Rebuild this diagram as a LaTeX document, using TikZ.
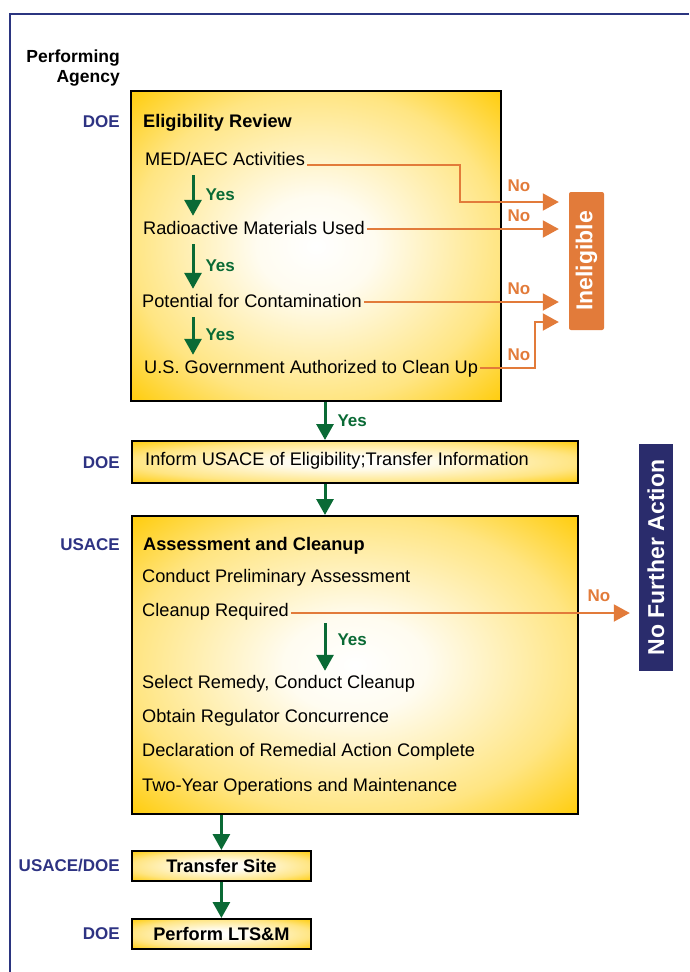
\documentclass[tikz,border=0pt]{standalone}
\usepackage{fontspec}
\setmainfont{Liberation Sans}
\usetikzlibrary{arrows.meta,positioning}

\definecolor{gold}{HTML}{FFCB05}
\definecolor{navy}{HTML}{2E3383}
\definecolor{frameblue}{HTML}{2B3580}
\definecolor{darkgreen}{HTML}{0A6A35}
\definecolor{noorange}{HTML}{E27B3A}
\definecolor{nfanavy}{HTML}{2A2C6C}

\pgfdeclareradialshading{goldglow}{\pgfpointorigin}{color(0bp)=(white); color(8bp)=(white!94!gold); color(25bp)=(gold!50!white); color(36bp)=(gold); color(50bp)=(gold)}

\tikzset{
  stagebox/.style={draw=black, line width=1.8pt, shade, shading=goldglow, anchor=north west, inner sep=0pt},
  item/.style={anchor=west, inner sep=2pt, text height=13pt, text depth=3pt, font=\fontsize{18.2}{21}\selectfont},
  heading/.style={item, font=\fontsize{18.2}{21}\selectfont\bfseries},
  agency/.style={anchor=east, inner sep=0pt, text=navy, font=\fontsize{17}{20}\selectfont\bfseries},
  yesarrow/.style={draw=darkgreen, line width=3pt, -{Triangle[width=17pt,length=16pt]}, shorten <=5pt, shorten >=3pt},
  yeslbl/.style={text=darkgreen, inner sep=0pt, font=\fontsize{17}{20}\selectfont\bfseries},
  noarrow/.style={draw=noorange, line width=2pt, -{Triangle[width=17pt,length=16pt]}, shorten >=10pt},
  nolbl/.style={text=noorange, inner sep=0pt, font=\fontsize{17}{20}\selectfont\bfseries},
  sidebox/.style={inner sep=0pt, text=white, font=\fontsize{23}{27}\selectfont\bfseries}
}

\begin{document}
\begin{tikzpicture}[x=1pt, y=-1pt]
  \useasboundingbox (0,0) rectangle (689,972);
  \draw[frameblue, line width=2.8pt] (689,14) -- (10,14) -- (10,972);

  % agency column
  \node(perfag) [anchor=east, align=right, inner sep=0pt, font=\fontsize{17.5}{20}\selectfont\bfseries] at (120,68) {Performing\\Agency};
  \node(ag1) [agency] at (120,122) {DOE};
  \node(ag2) [agency] at (120,463) {DOE};
  \node(ag3) [agency] at (120,545) {USACE};
  \node(ag4) [agency] at (120,866) {USACE/DOE};
  \node(ag5) [agency] at (120,934) {DOE};

  % stage boxes
  \node(elig) [stagebox, minimum width=370pt, minimum height=310pt] at (130,90) {};
  \node(inform) [stagebox, minimum width=446pt, minimum height=42pt] at (131,440) {};
  \node(assess) [stagebox, minimum width=446pt, minimum height=298pt] at (131,515) {};
  \node(transfer) [stagebox, minimum width=179pt, minimum height=30pt, font=\fontsize{18.2}{21}\selectfont\bfseries] at (131,850) {Transfer Site};
  \node(ltsm) [stagebox, minimum width=179pt, minimum height=30pt, font=\fontsize{18.2}{21}\selectfont\bfseries] at (131,918) {Perform LTS\&M};

  % outcome boxes
  \node(inel) [sidebox, fill=noorange, rounded corners=2pt, minimum width=35pt, minimum height=138pt] at (586.5,261) {\rotatebox{90}{Ineligible}};
  \node(nfa) [sidebox, fill=nfanavy, minimum width=34pt, minimum height=227pt] at (656,557.5) {\rotatebox{90}{No Further Action}};

  % eligibility review
  \node(eligttl) [heading] at (141,122) {Eligibility Review};
  \node(med) [item] at (143,160) {MED/AEC Activities};
  \node(radio) [item] at (141,229) {Radioactive Materials Used};
  \node(potent) [item] at (140,302) {Potential for Contamination};
  \node(usgov) [item] at (142,368) {U.S. Government Authorized to Clean Up};

  \coordinate(yx) at (193,0);
  \draw[yesarrow] (yx |- med.south) -- (yx |- radio.north) node[yeslbl, midway, right=11pt] {Yes};
  \draw[yesarrow] (yx |- radio.south) -- (yx |- potent.north) node[yeslbl, midway, right=11pt] {Yes};
  \draw[yesarrow] (yx |- potent.south) -- (yx |- usgov.north) node[yeslbl, midway, right=11pt] {Yes};

  \coordinate(k1) at (460,202);
  \coordinate(k2) at (535,322);
  \draw[noarrow] (med.base east) -| (k1) -- (k1 -| inel.west);
  \draw[noarrow] (radio.east) -- (radio.east -| inel.west);
  \draw[noarrow] (potent.east) -- (potent.east -| inel.west);
  \draw[noarrow] (usgov.east) -| (k2) -- (k2 -| inel.west);
  \node(no1) [nolbl] at (519,186) {No};
  \node(no2) [nolbl] at (519,216) {No};
  \node(no3) [nolbl] at (519,289) {No};
  \node(no4) [nolbl] at (519,355) {No};

  % inform
  \node(informtxt) [item] at (143,460) {Inform USACE of Eligibility;Transfer Information};

  % assessment and cleanup
  \node(assessttl) [heading] at (141,545) {Assessment and Cleanup};
  \node(prelim) [item] at (140,577) {Conduct Preliminary Assessment};
  \node(cleanup) [item] at (140,611) {Cleanup Required};
  \node(remedy) [item] at (140,683) {Select Remedy, Conduct Cleanup};
  \node(concur) [item] at (140,717) {Obtain Regulator Concurrence};
  \node(declare) [item] at (140,751) {Declaration of Remedial Action Complete};
  \node(twoyear) [item] at (140,786) {Two-Year Operations and Maintenance};

  \draw[noarrow, shorten >=9pt] ([yshift=-2pt]cleanup.east) -- ([yshift=-2pt]cleanup.east -| nfa.west);
  \node(no5) [nolbl] at (599,596) {No};

  % flow between stages
  \coordinate(ax) at (325,0);
  \draw[yesarrow, shorten <=0pt, shorten >=0pt] (ax |- elig.south) -- (ax |- inform.north) node[yeslbl, midway, right=11pt] {Yes};
  \draw[yesarrow, shorten <=0pt, shorten >=0pt] (ax |- inform.south) -- (ax |- assess.north);
  \draw[yesarrow, shorten <=2pt, shorten >=2pt] (ax |- cleanup.south) -- (ax |- remedy.north) node[yeslbl, pos=0.35, right=11pt] {Yes};
  \draw[yesarrow, shorten <=0pt, shorten >=0pt] (transfer.north |- assess.south) -- (transfer.north);
  \draw[yesarrow, shorten <=0pt, shorten >=0pt] (transfer.south) -- (ltsm.north);
\end{tikzpicture}
\end{document}
